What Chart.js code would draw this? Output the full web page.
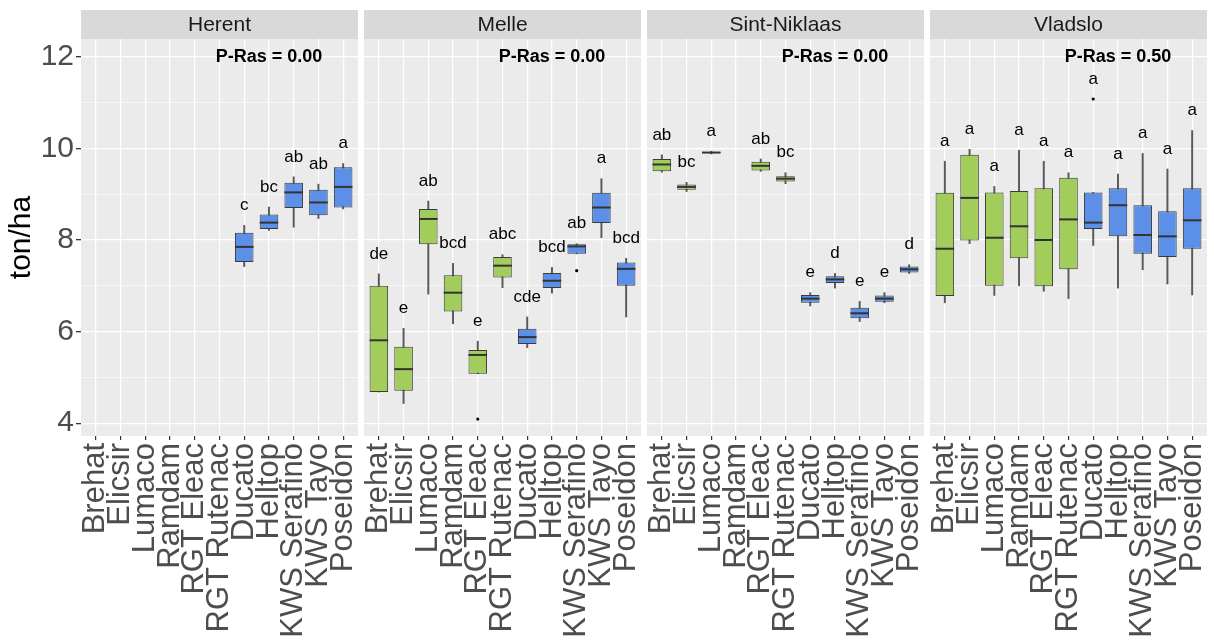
<!DOCTYPE html>
<html lang="nl">
<head>
<meta charset="UTF-8">
<title>Opbrengst per ras en locatie</title>
<script src="https://cdn.jsdelivr.net/npm/chart.js@4"></script>
<style>
  body { margin: 0; background: #fff; width: 1214px; height: 641px; overflow: hidden; position: relative; }
  canvas { position: absolute; top: 0; }
</style>
</head>
<body>
<canvas id="c0" width="358" height="641" style="left:0px"></canvas>
<canvas id="c1" width="277" height="641" style="left:364px"></canvas>
<canvas id="c2" width="277" height="641" style="left:647px"></canvas>
<canvas id="c3" width="277" height="641" style="left:930px"></canvas>

<script>
// Categories
const varieties = ['Brehat', 'Elicsir', 'Lumaco', 'Ramdam', 'RGT Eleac', 'RGT Rutenac',
                   'Ducato', 'Helltop', 'KWS Serafino', 'KWS Tayo', 'Poseidon'];
const varietyGroup = [0, 0, 0, 0, 0, 0, 1, 1, 1, 1, 1];
const locations = ['Herent', 'Melle', 'Sint-Niklaas', 'Vladslo'];
const pRas = ['0.00', '0.00', '0.00', '0.50'];
const yTicks = [4, 5, 6, 7, 8, 9, 10, 11, 12];

// Boxplot statistics (ton/ha), one row per location
const whiskerLow = [
  [null, null, null, null, null, null, 7.42, 8.21, 8.28, 8.47, 8.68],
  [4.68, 4.43, 6.82, 6.17, 5.08, 6.96, 5.65, 6.84, 7.70, 8.05, 6.32],
  [9.48, 9.06, 9.88, null, 9.50, 9.23, 6.56, 6.95, 6.22, 6.63, 7.27],
  [6.63, 7.92, 6.79, 7.00, 6.88, 6.72, 7.88, 6.95, 7.35, 7.04, 6.80]
];
const q1 = [
  [null, null, null, null, null, null, 7.52, 8.24, 8.70, 8.54, 8.71],
  [4.68, 4.71, 7.91, 6.44, 5.08, 7.18, 5.73, 6.95, 7.70, 8.37, 7.00],
  [9.50, 9.10, 9.90, null, 9.52, 9.28, 6.63, 7.06, 6.29, 6.65, 7.29],
  [6.78, 7.99, 7.00, 7.60, 6.99, 7.36, 8.24, 8.08, 7.70, 7.63, 7.81]
];
const median = [
  [null, null, null, null, null, null, 7.85, 8.38, 9.04, 8.82, 9.16],
  [5.81, 5.18, 8.46, 6.85, 5.49, 7.44, 5.88, 7.11, 7.86, 8.71, 7.37],
  [9.65, 9.16, 9.91, null, 9.62, 9.34, 6.72, 7.14, 6.40, 6.72, 7.36],
  [7.81, 8.92, 8.05, 8.30, 8.00, 8.45, 8.38, 8.76, 8.11, 8.08, 8.43]
];
const q3 = [
  [null, null, null, null, null, null, 8.16, 8.56, 9.25, 9.10, 9.59],
  [7.00, 5.67, 8.68, 7.23, 5.60, 7.63, 6.06, 7.28, 7.91, 9.03, 7.51],
  [9.77, 9.21, 9.92, null, 9.71, 9.39, 6.80, 7.21, 6.52, 6.79, 7.42],
  [9.03, 9.86, 9.04, 9.07, 9.13, 9.36, 9.04, 9.13, 8.76, 8.63, 9.13]
];
const whiskerHigh = [
  [null, null, null, null, null, null, 8.32, 8.72, 9.38, 9.22, 9.67],
  [7.26, 6.07, 8.85, 7.49, 5.79, 7.68, 6.32, 7.40, 7.92, 9.34, 7.60],
  [9.86, 9.26, 9.94, null, 9.77, 9.47, 6.85, 7.27, 6.66, 6.85, 7.46],
  [9.72, 9.98, 9.17, 9.96, 9.72, 9.47, 9.04, 9.44, 9.89, 9.55, 10.39]
];
// [variety index, value]
const outliers = [
  [],
  [[4, 4.09], [8, 7.33]],
  [],
  [[6, 11.08]]
];
const letters = [
  ['', '', '', '', '', '', 'c', 'bc', 'ab', 'ab', 'a'],
  ['de', 'e', 'ab', 'bcd', 'e', 'abc', 'cde', 'bcd', 'ab', 'a', 'bcd'],
  ['ab', 'bc', 'a', '', 'ab', 'bc', 'e', 'd', 'e', 'e', 'd'],
  ['a', 'a', 'a', 'a', 'a', 'a', 'a', 'a', 'a', 'a', 'a']
];

const groupColors = ['#A3CD5B', '#5B8FE8'];
const FONT = '"Liberation Sans", Arial, sans-serif';

// grey panel background + facet strip
const panelPlugin = {
  id: 'panel',
  beforeDraw(chart, args, opts) {
    const { ctx, chartArea: a } = chart;
    ctx.save();
    ctx.fillStyle = '#EBEBEB';
    ctx.fillRect(a.left, a.top, a.right - a.left, a.bottom - a.top);
    ctx.fillStyle = '#D9D9D9';
    ctx.fillRect(a.left, a.top - 29, a.right - a.left, 29);
    ctx.fillStyle = '#1A1A1A';
    ctx.font = '21px ' + FONT;
    ctx.textAlign = 'center';
    ctx.textBaseline = 'middle';
    ctx.fillText(opts.title, (a.left + a.right) / 2, a.top - 14);
    ctx.restore();
  }
};

// medians, significance letters and P-Ras text
const extrasPlugin = {
  id: 'extras',
  afterDatasetsDraw(chart, args, opts) {
    const loc = opts.loc;
    const { ctx } = chart;
    const x = chart.scales.x, y = chart.scales.y;
    const boxes = chart.data.datasets[0].data;
    ctx.save();
    ctx.strokeStyle = '#333333';
    ctx.lineWidth = 2;
    chart.getDatasetMeta(0).data.forEach((bar, j) => {
      const py = y.getPixelForValue(median[loc][boxes[j].x]);
      ctx.beginPath();
      ctx.moveTo(bar.x - bar.width / 2, py);
      ctx.lineTo(bar.x + bar.width / 2, py);
      ctx.stroke();
    });

    ctx.fillStyle = '#000';
    ctx.font = '17px ' + FONT;
    ctx.textAlign = 'center';
    ctx.textBaseline = 'middle';
    letters[loc].forEach((txt, i) => {
      if (!txt) return;
      let top = whiskerHigh[loc][i];
      outliers[loc].forEach(([k, v]) => { if (k === i) top = Math.max(top, v); });
      ctx.fillText(txt, x.getPixelForValue(i), y.getPixelForValue(top) - 20);
    });

    ctx.font = 'bold 18px ' + FONT;
    ctx.fillText('P-Ras = ' + pRas[loc], x.getPixelForValue(7), y.getPixelForValue(12));
    ctx.restore();
  }
};

function makeChart(loc) {
  const first = loc === 0;
  const idx = varieties.map((v, i) => i).filter(i => q1[loc][i] !== null);

  const boxData = idx.map(i => ({ x: i, y: [q1[loc][i], q3[loc][i]] }));
  const whiskerData = idx.map(i => ({ x: i, y: [whiskerLow[loc][i], whiskerHigh[loc][i]] }));
  const outlierData = outliers[loc].map(([k, v]) => ({ x: k, y: v }));

  new Chart(document.getElementById('c' + loc), {
    type: 'bar',
    data: {
      datasets: [
        {
          data: boxData,
          order: 1,
          grouped: false,
          backgroundColor: idx.map(i => groupColors[varietyGroup[i]]),
          borderColor: '#3A3A3A',
          borderWidth: 1,
          borderSkipped: false,
          categoryPercentage: 1,
          barPercentage: 0.75
        },
        {
          data: whiskerData,
          order: 2,
          grouped: false,
          backgroundColor: '#595959',
          barThickness: 1.3
        },
        {
          type: 'scatter',
          data: outlierData,
          order: 0,
          pointRadius: 1.6,
          pointBackgroundColor: '#000',
          pointBorderWidth: 0
        }
      ]
    },
    options: {
      responsive: false,
      devicePixelRatio: 1,
      animation: false,
      layout: { autoPadding: false, padding: { top: 39, left: 0, right: 0, bottom: 0 } },
      plugins: {
        legend: { display: false },
        tooltip: { enabled: false },
        panel: { title: locations[loc] },
        extras: { loc: loc }
      },
      scales: {
        x: {
          type: 'linear',
          min: -0.6,
          max: 10.6,
          offset: false,
          border: { display: false },
          grid: { offset: false, color: '#FFFFFF', lineWidth: 1.2, tickLength: 4, tickColor: '#333333' },
          afterBuildTicks: s => { s.ticks = varieties.map((v, i) => ({ value: i })); },
          afterFit: s => { s.height = 205; s.paddingLeft = 0; s.paddingRight = 0; },
          ticks: {
            autoSkip: false,
            minRotation: 90,
            maxRotation: 90,
            padding: 3,
            color: '#4D4D4D',
            font: { family: FONT, size: 31 },
            callback: v => varieties[v]
          }
        },
        y: {
          min: 3.72,
          max: 12.39,
          border: { display: false },
          afterBuildTicks: s => { s.ticks = yTicks.map(v => ({ value: v })); },
          afterFit: s => { s.width = first ? 81 : 0; s.paddingTop = 0; s.paddingBottom = 0; },
          grid: {
            color: '#FFFFFF',
            lineWidth: c => (c.tick && c.tick.value % 2 === 0) ? 1.3 : 0.6,
            drawTicks: first,
            tickLength: 5,
            tickColor: c => (c.tick && c.tick.value % 2 === 0) ? '#333333' : 'rgba(0,0,0,0)'
          },
          ticks: {
            display: first,
            padding: 2,
            color: '#4D4D4D',
            font: { family: FONT, size: 30 },
            callback: v => (v % 2 === 0 ? v : '')
          },
          title: {
            display: first,
            text: 'ton/ha',
            color: '#000',
            font: { family: FONT, size: 30 }
          }
        }
      }
    },
    plugins: [panelPlugin, extrasPlugin]
  });
}

locations.forEach((name, loc) => makeChart(loc));
</script>
</body>
</html>
